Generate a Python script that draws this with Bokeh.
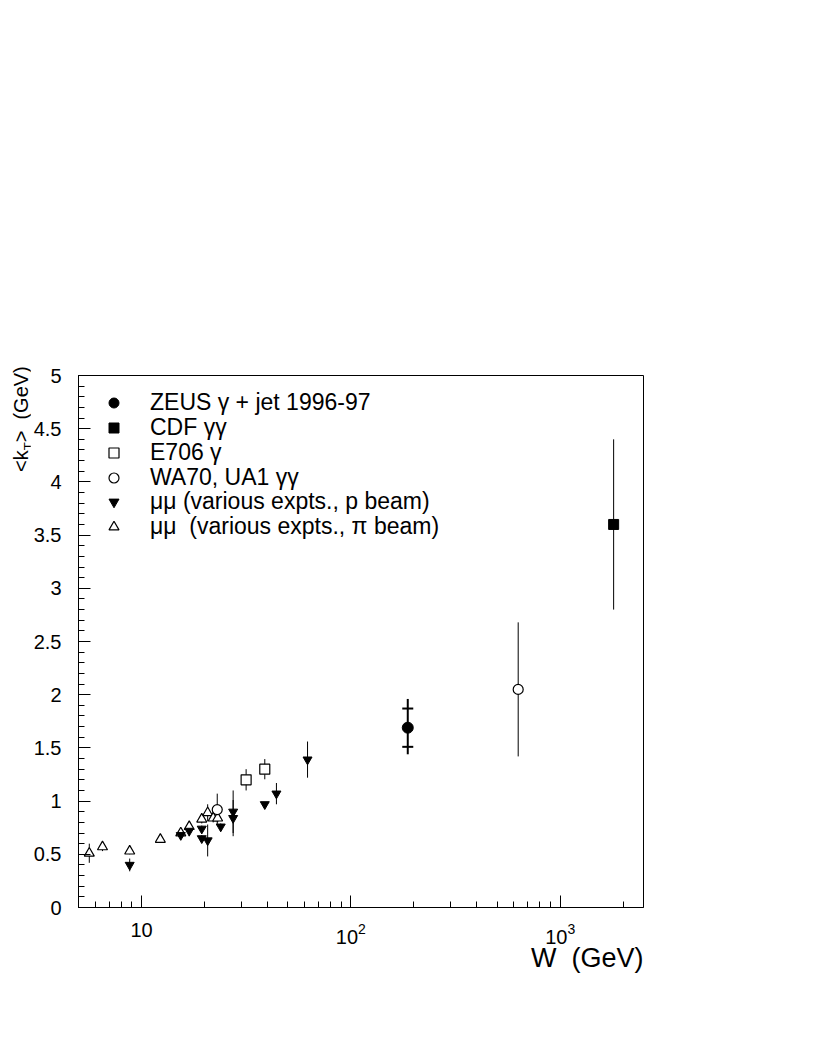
from bokeh.plotting import figure
from bokeh.layouts import row
from bokeh.models import (Range1d, FixedTicker, NumeralTickFormatter, LogTickFormatter,
                          Legend, LegendItem, ColumnDataSource, Title, Div)
from bokeh.embed import file_html
from bokeh.resources import INLINE

FONT = "Liberation Sans"
NB = "\u00a0"

# ---------------- data ----------------
zeus_w = [187.0]
zeus_k = [1.69]
zeus_stat = [0.18]
zeus_tot_up = [0.27]
zeus_tot_dn = [0.25]

cdf_w = [1800.0]
cdf_k = [3.60]
cdf_err = [0.80]

e706_w = [31.6, 38.8]
e706_k = [1.20, 1.30]
e706_err = [0.10, 0.095]

wa70_w = [23.0, 630.0]
wa70_k = [0.92, 2.05]
wa70_err = [0.15, 0.63]

# mu mu, p beam (filled down triangles)
mup_w = [8.78, 15.4, 16.9, 19.4, 19.4, 20.7, 23.9, 27.4, 27.4, 38.8, 44.1, 62.1]
mup_k = [0.40, 0.68, 0.72, 0.74, 0.65, 0.63, 0.76, 0.90, 0.84, 0.97, 1.07, 1.39]
mup_err = [0.06, 0.04, 0.05, 0.03, 0.03, 0.15, 0.03, 0.20, 0.17, 0.02, 0.10, 0.17]

# mu mu, pi beam (open up triangles)
mupi_w = [5.63, 6.51, 8.78, 12.3, 15.4, 16.9, 19.4, 20.7, 22.0, 23.1]
mupi_k = [0.51, 0.57, 0.53, 0.64, 0.70, 0.76, 0.83, 0.89, 0.84, 0.84]
mupi_err = [0.09, 0.04, 0.03, 0.03, 0.04, 0.04, 0.04, 0.08, 0.04, 0.04]

legend_labels = ["ZEUS \u03b3 + jet 1996-97", "CDF \u03b3\u03b3", "E706 \u03b3",
                 "WA70, UA1 \u03b3\u03b3", "\u03bc\u03bc (various expts., p beam)",
                 "\u03bc\u03bc" + NB + NB + "(various expts., \u03c0 beam)"]

x_major = [10, 100, 1000]
x_minor = [6, 7, 8, 9, 20, 30, 40, 50, 60, 70, 80, 90,
           200, 300, 400, 500, 600, 700, 800, 900, 2000]
y_major = [0, 0.5, 1, 1.5, 2, 2.5, 3, 3.5, 4, 4.5, 5]
y_minor = [i / 10 for i in range(0, 51)]

x_title = "W" + NB + NB + "(GeV)"
y_title_html = "&lt;k<sub style=\"font-size:13px;\">T</sub>&gt;&nbsp;&nbsp;(GeV)"

# ---------------- main figure ----------------
TW = 30          # width of the strip holding the y title
W, H = 800, 1040
BL = 75 - TW
FRAME_TOP, FRAME_H = 375, 532
p = figure(width=W - TW, height=H, x_axis_type="log",
           x_range=Range1d(5, 2500), y_range=Range1d(0, 5),
           output_backend="svg", toolbar_location=None,
           min_border_left=BL, min_border_right=W - TW - BL - 568,
           min_border_top=FRAME_TOP, min_border_bottom=H - FRAME_TOP - FRAME_H)
p.grid.visible = False
p.outline_line_color = "black"
p.outline_line_width = 1
p.background_fill_color = "white"
p.border_fill_color = "white"

for ax in (p.xaxis[0], p.yaxis[0]):
    ax.axis_line_color = "black"
    ax.axis_line_width = 1
    ax.major_tick_in = 12
    ax.major_tick_out = 0
    ax.minor_tick_in = 6
    ax.minor_tick_out = 0
    ax.major_tick_line_color = "black"
    ax.minor_tick_line_color = "black"
    ax.major_label_text_font = FONT
    ax.major_label_text_font_size = "20px"
    ax.major_label_text_color = "black"

p.xaxis.ticker = FixedTicker(ticks=x_major, minor_ticks=x_minor)
p.xaxis.formatter = LogTickFormatter(min_exponent=2)
p.xaxis.major_label_standoff = 15
p.yaxis.ticker = FixedTicker(ticks=y_major, minor_ticks=y_minor)
p.yaxis.formatter = NumeralTickFormatter(format="0.[0]")
p.yaxis.major_label_standoff = 17

# ---------------- error bars ----------------
def bars(w, k, up, dn, width=1):
    src = ColumnDataSource(dict(x=w, y0=[a - b for a, b in zip(k, dn)],
                                y1=[a + b for a, b in zip(k, up)]))
    p.segment(x0="x", y0="y0", x1="x", y1="y1", source=src,
              line_color="black", line_width=width)

bars(mup_w, mup_k, mup_err, mup_err)
bars(mupi_w, mupi_k, mupi_err, mupi_err)
bars(e706_w, e706_k, e706_err, e706_err)
bars(wa70_w, wa70_k, wa70_err, wa70_err)
bars(cdf_w, cdf_k, cdf_err, cdf_err)
bars(zeus_w, zeus_k, zeus_tot_up, zeus_tot_dn, width=2)
p.scatter(x=zeus_w * 2, y=[zeus_k[0] - zeus_stat[0], zeus_k[0] + zeus_stat[0]],
          marker="dash", size=11, line_width=2, line_color="black")

# ---------------- markers ----------------
r_mupi = p.scatter(mupi_w, mupi_k, marker="triangle", size=10,
                   fill_color="white", line_color="black", line_width=1.2)
r_mup = p.scatter(mup_w, mup_k, marker="inverted_triangle", size=9,
                  fill_color="black", line_color="black")
r_e706 = p.scatter(e706_w, e706_k, marker="square", size=10,
                   fill_color="white", line_color="black", line_width=1.2)
r_wa70 = p.scatter(wa70_w, wa70_k, marker="circle", size=10,
                   fill_color="white", line_color="black", line_width=1.2)
r_cdf = p.scatter(cdf_w, cdf_k, marker="square", size=10,
                  fill_color="black", line_color="black")
r_zeus = p.scatter(zeus_w, zeus_k, marker="circle", size=11,
                   fill_color="black", line_color="black")

# ---------------- legend: one box per entry, rows 24.8 px apart ----------------
ITEM_H = 26.5
ROW0, PITCH = 403 - FRAME_TOP, 24.8     # first row centre, below the frame top
for i, (l, r) in enumerate(zip(legend_labels,
                               [r_zeus, r_cdf, r_e706, r_wa70, r_mup, r_mupi])):
    row_from_bottom = FRAME_H - (ROW0 + i * PITCH)
    leg = Legend(items=[LegendItem(label=l, renderers=[r])],
                 location=(23, round(row_from_bottom - ITEM_H / 2)),
                 glyph_width=25, glyph_height=25, spacing=0, padding=0, margin=0,
                 label_standoff=24, label_height=25,
                 label_text_font=FONT, label_text_font_size="23px",
                 label_text_color="black", border_line_alpha=0,
                 background_fill_alpha=0)
    p.add_layout(leg)

# ---------------- x title ----------------
p.add_layout(Title(text=x_title, align="right", vertical_align="bottom", standoff=-12,
                   offset=0, text_font=FONT, text_font_size="27px",
                   text_font_style="normal", text_color="black"), "below")

# ---------------- y title (rotated, with subscript T) ----------------
ytitle = Div(
    text=("<div style=\"position:relative;width:%dpx;height:%dpx;\">"
          "<div style=\"position:absolute;left:9px;top:472px;transform:rotate(-90deg);"
          "transform-origin:0 0;white-space:nowrap;font-family:'Liberation Sans';"
          "font-size:20px;line-height:24px;color:#000;\">%s</div></div>")
    % (TW, H, y_title_html),
    width=TW, height=H, margin=0)

layout = row(ytitle, p)
open("out.html", "w").write(file_html(layout, INLINE))
